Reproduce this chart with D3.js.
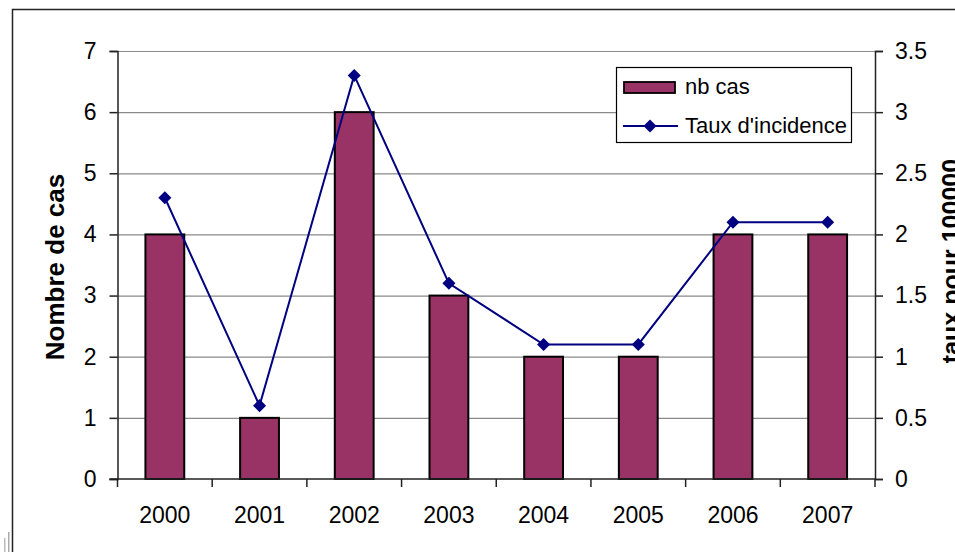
<!DOCTYPE html>
<html><head><meta charset="utf-8">
<script src="https://cdn.jsdelivr.net/npm/d3@7"></script>
<style>
html,body{margin:0;padding:0;background:#fff;}
svg{display:block;font-family:Arial,"Liberation Sans",sans-serif;}
</style></head>
<body>
<svg id="chart" width="955" height="552"></svg>
<script>
const years = ["2000","2001","2002","2003","2004","2005","2006","2007"];
const nbCas = [4,1,6,3,2,2,4,4];
const taux = [2.3,0.6,3.3,1.6,1.1,1.1,2.1,2.1];
const leftTicks = [0,1,2,3,4,5,6,7];
const rightTicks = [0,0.5,1,1.5,2,2.5,3,3.5];
const seriesNames = ["nb cas","Taux d'incidence"];
const axisTitles = ["Nombre de cas","taux pour 100000"];

const svg = d3.select("#chart");
const L = 117.5, R = 875, T = 51, B = 479;

// outer border
svg.append("path").attr("d","M12.5,552 L12.5,9.5 L955,9.5").attr("fill","none").attr("stroke","#222").attr("stroke-width",1.5);
// small artifacts bottom-left
svg.append("rect").attr("x",4).attr("y",538).attr("width",1.5).attr("height",14).attr("fill","#bbb");
svg.append("rect").attr("x",8).attr("y",532).attr("width",1.5).attr("height",20).attr("fill","#aaa");

const x = d3.scaleBand().domain(years).range([L,R]).paddingInner(0).paddingOuter(0);
const yL = d3.scaleLinear().domain([0,7]).range([B,T]);
const yR = d3.scaleLinear().domain([0,3.5]).range([B,T]);

// gridlines
svg.append("g").selectAll("line").data(leftTicks.filter(d=>d>0)).join("line")
  .attr("x1",L).attr("x2",R).attr("y1",d=>yL(d)+0.5).attr("y2",d=>yL(d)+0.5)
  .attr("stroke","#8a8a8a").attr("stroke-width",1.2);

// bars
const bw = x.bandwidth()*0.41;
svg.append("g").selectAll("rect").data(years).join("rect")
  .attr("x",(d)=>x(d)+x.bandwidth()/2-bw/2)
  .attr("width",bw)
  .attr("y",(d,i)=>yL(nbCas[i]))
  .attr("height",(d,i)=>yL(0)-yL(nbCas[i]))
  .attr("fill","#993366").attr("stroke","#000").attr("stroke-width",2);

// left axis
const axL = svg.append("g").attr("transform",`translate(${L},0)`)
  .call(d3.axisLeft(yL).tickValues(leftTicks).tickFormat(d3.format("d")).tickSize(8).tickPadding(13));
axL.select(".domain").attr("stroke","#222").attr("stroke-width",1.5);
axL.selectAll(".tick line").attr("stroke","#222").attr("stroke-width",1.5);
axL.selectAll("text").attr("font-size",23).attr("fill","#000").attr("font-family","Arial,'Liberation Sans',sans-serif");

// right axis
const axR = svg.append("g").attr("transform",`translate(${R},0)`)
  .call(d3.axisRight(yR).tickValues(rightTicks).tickFormat(d=>String(d)).tickSize(8).tickPadding(12));
axR.select(".domain").attr("stroke","#222").attr("stroke-width",1.5);
axR.selectAll(".tick line").attr("stroke","#222").attr("stroke-width",1.5);
axR.selectAll("text").attr("font-size",23).attr("fill","#000").attr("font-family","Arial,'Liberation Sans',sans-serif");

// bottom axis
const bAx = svg.append("g").attr("transform",`translate(0,${B})`);
bAx.append("line").attr("x1",L-8).attr("x2",R).attr("y1",0).attr("y2",0).attr("stroke","#222").attr("stroke-width",1.5);
const bounds = years.map(d=>x(d)).concat([R]);
bAx.selectAll("line.tk").data(bounds).join("line").attr("class","tk")
  .attr("x1",d=>d).attr("x2",d=>d).attr("y1",0).attr("y2",8).attr("stroke","#222").attr("stroke-width",1.5);
bAx.selectAll("text").data(years).join("text")
  .attr("x",d=>x(d)+x.bandwidth()/2).attr("y",44).attr("text-anchor","middle")
  .attr("font-size",23).text(d=>d);

// line
const line = d3.line().x((d,i)=>x(years[i])+x.bandwidth()/2).y(d=>yR(d));
svg.append("path").datum(taux).attr("d",line).attr("fill","none").attr("stroke","#000080").attr("stroke-width",2);
const diamond = d3.symbol().type(d3.symbolSquare).size(85);
svg.append("g").selectAll("path").data(taux).join("path")
  .attr("d",diamond())
  .attr("transform",(d,i)=>`translate(${x(years[i])+x.bandwidth()/2},${yR(d)}) rotate(45)`)
  .attr("fill","#000080");

// axis titles
svg.append("text").attr("transform","translate(64,267) rotate(-90)").attr("text-anchor","middle")
  .attr("font-size",26).attr("font-weight","bold").text(axisTitles[0]);
svg.append("text").attr("transform","translate(960,261) rotate(-90)").attr("text-anchor","middle")
  .attr("font-size",25).attr("font-weight","bold").text(axisTitles[1]);

// legend
const lg = svg.append("g");
lg.append("rect").attr("x",616.5).attr("y",67.5).attr("width",235).attr("height",75)
  .attr("fill","#fff").attr("stroke","#000").attr("stroke-width",1.2);
lg.append("rect").attr("x",624).attr("y",82).attr("width",51).attr("height",11)
  .attr("fill","#993366").attr("stroke","#000").attr("stroke-width",1.8);
lg.append("text").attr("x",685).attr("y",94).attr("font-size",22).text(seriesNames[0]);
lg.append("line").attr("x1",623).attr("x2",678).attr("y1",126).attr("y2",126).attr("stroke","#000080").attr("stroke-width",2);
lg.append("path").attr("d",diamond()).attr("transform","translate(650,126) rotate(45)").attr("fill","#000080");
lg.append("text").attr("x",685).attr("y",133).attr("font-size",22).text(seriesNames[1]);
</script>
</body></html>
